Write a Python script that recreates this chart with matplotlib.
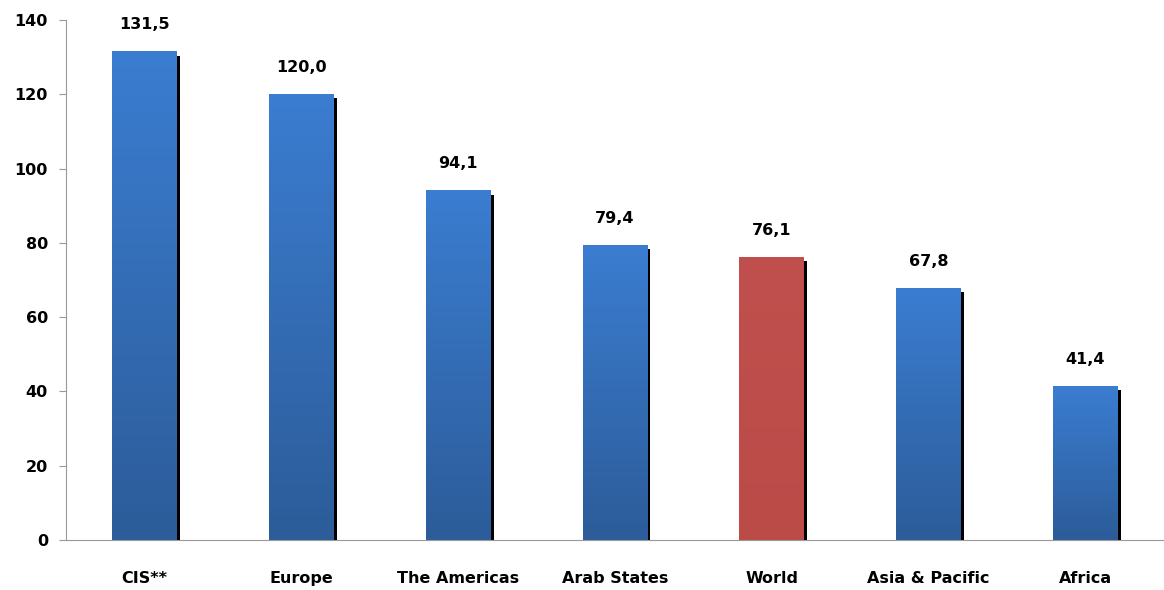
import numpy as np
import matplotlib.pyplot as plt
from matplotlib.colors import LinearSegmentedColormap

categories = ['CIS**', 'Europe', 'The Americas', 'Arab States', 'World', 'Asia & Pacific', 'Africa']
values = [131.5, 120.0, 94.1, 79.4, 76.1, 67.8, 41.4]
labels = ['131,5', '120,0', '94,1', '79,4', '76,1', '67,8', '41,4']
highlight = 'World'

blue_cmap = LinearSegmentedColormap.from_list('blue', ['#2C5C99', '#3B7DD1'])
red_cmap = LinearSegmentedColormap.from_list('red', ['#BA4B47', '#C0504D'])

fig = plt.figure(figsize=(11.64, 5.90), dpi=100)
ax = fig.add_axes([0.0567, 0.0847, 0.943, 0.8813])

width = 0.41
grad = np.linspace(0, 1, 256).reshape(-1, 1)

for i, (cat, v) in enumerate(zip(categories, values)):
    # shadow
    ax.bar(i + 0.022, v - 1.1, width=width, color='black', zorder=1)
    cmap = red_cmap if cat == highlight else blue_cmap
    ax.imshow(grad, cmap=cmap, origin='lower', aspect='auto',
              extent=(i - width / 2, i + width / 2, 0, v), zorder=2)
    ax.annotate(labels[i], (i, v), xytext=(0, 14), textcoords='offset points',
                ha='center', va='bottom', fontsize=11.5, fontweight='bold')

ax.set_xlim(-0.5, len(categories) - 0.5)
ax.set_ylim(0, 140)
ax.set_yticks(np.arange(0, 141, 20))
ax.set_xticks(range(len(categories)))
ax.set_xticklabels(categories, fontsize=11.5, fontweight='bold')
for t in ax.get_yticklabels():
    t.set_fontweight('bold')
    t.set_fontsize(11.5)

ax.spines['top'].set_visible(False)
ax.spines['right'].set_visible(False)
ax.spines['left'].set_color('#999999')
ax.spines['bottom'].set_color('#999999')
ax.tick_params(axis='x', length=0, pad=22)
ax.tick_params(axis='y', length=5, color='#999999', pad=8)

fig.savefig('out.png', dpi=100)
